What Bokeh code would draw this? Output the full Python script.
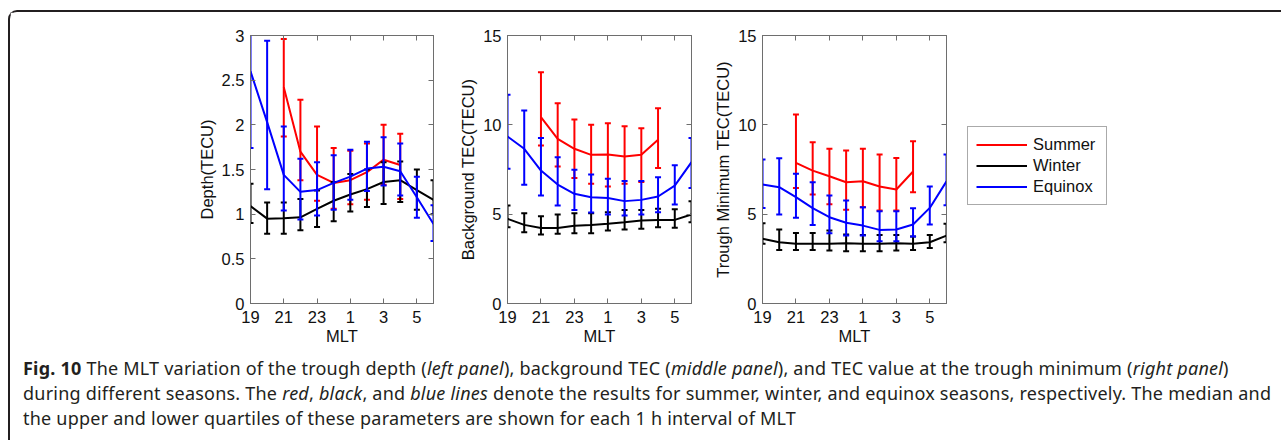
from bokeh.plotting import figure
from bokeh.models import (Range1d, FixedTicker, LinearAxis, Legend, LegendItem,
                          Div, Spacer, ColumnDataSource)
from bokeh.layouts import row, column
from bokeh.embed import file_html
from bokeh.resources import INLINE

# ---------------- data ----------------
mlt_hours = [19, 20, 21, 22, 23, 24, 25, 26, 27, 28, 29, 30]
summer_hours = [21, 22, 23, 24, 25, 26, 27, 28]
mlt_tick_values = [19, 21, 23, 25, 27, 29]
mlt_tick_labels = ["19", "21", "23", "1", "3", "5"]

depth_ticks = [0, 0.5, 1, 1.5, 2, 2.5, 3]
depth_tick_labels = ["0", "0.5", "1", "1.5", "2", "2.5", "3"]
tec_ticks = [0, 5, 10, 15]
tec_tick_labels = ["0", "5", "10", "15"]

season_names = ["Summer", "Winter", "Equinox"]
season_colors = ["#ff0000", "#000000", "#0000ff"]

# trough depth (TECU)
depth_summer = [2.42, 1.70, 1.44, 1.35, 1.38, 1.47, 1.61, 1.55]
depth_summer_hi = [2.96, 2.28, 1.98, 1.74, 1.71, 1.79, 2.00, 1.90]
depth_summer_lo = [1.87, 1.38, 1.15, 1.06, 1.11, 1.16, 1.33, 1.17]
depth_winter = [1.09, 0.95, 0.955, 0.965, 1.06, 1.15, 1.22, 1.28, 1.36, 1.38, 1.27, 1.16]
depth_winter_hi = [1.34, 1.13, 1.13, 1.17, 1.265, 1.36, 1.45, 1.50, 1.58, 1.59, 1.50, 1.38]
depth_winter_lo = [0.90, 0.78, 0.78, 0.82, 0.855, 0.92, 1.03, 1.08, 1.115, 1.135, 1.05, 1.00]
depth_equinox = [2.60, 2.03, 1.44, 1.25, 1.27, 1.35, 1.42, 1.51, 1.53, 1.48, 1.19, 0.89]
depth_equinox_hi = [3.05, 2.94, 1.98, 1.62, 1.58, 1.66, 1.72, 1.81, 1.86, 1.79, 1.42, 1.10]
depth_equinox_lo = [1.74, 1.28, 1.04, 0.94, 0.985, 1.05, 1.16, 1.26, 1.32, 1.21, 0.96, 0.70]

# background TEC (TECU)
bg_summer = [10.43, 9.21, 8.66, 8.32, 8.34, 8.23, 8.32, 9.16]
bg_summer_hi = [12.94, 11.21, 10.30, 10.0, 10.09, 9.92, 9.81, 10.93]
bg_summer_lo = [8.84, 7.67, 7.03, 6.70, 6.55, 6.70, 6.80, 7.59]
bg_winter = [4.74, 4.40, 4.23, 4.23, 4.35, 4.40, 4.46, 4.55, 4.65, 4.68, 4.68, 4.98]
bg_winter_hi = [5.48, 5.05, 4.89, 4.98, 5.05, 5.05, 5.11, 5.24, 5.24, 5.30, 5.27, 5.72]
bg_winter_lo = [4.27, 3.99, 3.86, 3.90, 3.93, 3.93, 4.09, 4.14, 4.18, 4.27, 4.24, 4.55]
bg_equinox = [9.35, 8.66, 7.44, 6.66, 6.14, 5.95, 5.91, 5.73, 5.80, 5.99, 6.60, 7.91]
bg_equinox_hi = [11.68, 10.8, 9.27, 8.19, 7.48, 7.22, 6.98, 6.85, 6.85, 7.07, 7.74, 9.27]
bg_equinox_lo = [7.54, 6.64, 6.04, 5.48, 5.24, 5.10, 4.98, 4.92, 4.98, 5.11, 5.54, 6.47]

# TEC at trough minimum (TECU)
tm_summer = [7.87, 7.44, 7.12, 6.79, 6.84, 6.55, 6.38, 7.39]
tm_summer_hi = [10.58, 9.03, 8.66, 8.56, 8.66, 8.34, 8.15, 9.08]
tm_summer_lo = [6.47, 6.10, 5.55, 5.25, 5.39, 5.20, 5.20, 6.23]
tm_winter = [3.62, 3.43, 3.34, 3.34, 3.34, 3.37, 3.34, 3.34, 3.37, 3.34, 3.43, 3.80]
tm_winter_hi = [4.49, 4.14, 3.95, 3.95, 4.08, 3.86, 3.84, 3.84, 3.84, 3.75, 3.84, 4.46]
tm_winter_lo = [3.34, 3.0, 3.0, 3.0, 2.97, 2.93, 2.93, 2.93, 2.97, 3.0, 3.11, 3.43]
tm_equinox = [6.66, 6.51, 5.95, 5.34, 4.83, 4.52, 4.36, 4.12, 4.14, 4.42, 5.35, 6.84]
tm_equinox_hi = [8.06, 8.13, 7.26, 6.79, 6.04, 5.76, 5.39, 5.17, 5.17, 5.33, 6.55, 8.34]
tm_equinox_lo = [5.35, 4.98, 4.80, 4.40, 3.93, 3.80, 3.80, 3.49, 3.49, 3.75, 4.42, 5.50]

# ---------------- styling ----------------
FONT = "Liberation Sans"
TICK_SIZE = "16.5px"
LABEL_SIZE = "16.5px"
FRAME_COLOR = "#6e6e6e"


def style_axis(ax, ticks, labels, show_labels=True):
    ax.ticker = FixedTicker(ticks=ticks)
    ax.major_tick_in = 5
    ax.major_tick_out = 0
    ax.minor_tick_in = 0
    ax.minor_tick_out = 0
    ax.major_tick_line_color = FRAME_COLOR
    ax.axis_line_color = FRAME_COLOR
    ax.major_label_text_font = FONT
    ax.major_label_text_color = "#111111"
    ax.major_label_text_font_size = TICK_SIZE
    ax.axis_label_text_font = FONT
    ax.axis_label_text_font_style = "normal"
    ax.axis_label_text_font_size = LABEL_SIZE
    ax.axis_label_text_color = "#111111"
    if show_labels:
        ax.major_label_overrides = {t: l for t, l in zip(ticks, labels)}
    else:
        ax.major_label_overrides = {t: "" for t in ticks}
        ax.major_label_standoff = 0


def make_panel(y_max, y_ticks, y_labels, y_title, border_left, border_right, series):
    p = figure(frame_width=184, frame_height=268,
               x_range=Range1d(19, 30), y_range=Range1d(0, y_max),
               min_border_left=border_left, min_border_right=border_right,
               min_border_top=23, min_border_bottom=48,
               output_backend="svg", toolbar_location=None)
    p.xgrid.visible = False
    p.ygrid.visible = False
    p.outline_line_color = FRAME_COLOR
    p.background_fill_color = "white"
    p.border_fill_color = "white"

    style_axis(p.xaxis[0], mlt_tick_values, mlt_tick_labels)
    p.xaxis[0].axis_label = "MLT"
    p.xaxis[0].major_label_standoff = 7
    p.xaxis[0].axis_label_standoff = 1
    style_axis(p.yaxis[0], y_ticks, y_labels)
    p.yaxis[0].axis_label = y_title
    p.yaxis[0].major_label_standoff = 6
    p.yaxis[0].axis_label_standoff = 3

    top = LinearAxis()
    style_axis(top, mlt_tick_values, mlt_tick_labels, show_labels=False)
    p.add_layout(top, "above")
    right = LinearAxis()
    style_axis(right, y_ticks, y_labels, show_labels=False)
    p.add_layout(right, "right")

    for (hrs, med, hi, lo), color in zip(series, season_colors):
        src = ColumnDataSource(dict(x=hrs, y=med, hi=hi, lo=lo))
        p.line("x", "y", source=src, line_color=color, line_width=2)
        p.segment(x0="x", y0="lo", x1="x", y1="hi", source=src,
                  line_color=color, line_width=2)
        p.scatter("x", "hi", source=src, marker="dash", size=6,
                  line_color=color, line_width=2)
        p.scatter("x", "lo", source=src, marker="dash", size=6,
                  line_color=color, line_width=2)
    return p


p1 = make_panel(3, depth_ticks, depth_tick_labels, "Depth(TECU)", 240, 17, [
    (summer_hours, depth_summer, depth_summer_hi, depth_summer_lo),
    (mlt_hours, depth_winter, depth_winter_hi, depth_winter_lo),
    (mlt_hours, depth_equinox, depth_equinox_hi, depth_equinox_lo),
])
p1.frame_width = 183

p2 = make_panel(15, tec_ticks, tec_tick_labels, "Background TEC(TECU)", 57, 14, [
    (summer_hours, bg_summer, bg_summer_hi, bg_summer_lo),
    (mlt_hours, bg_winter, bg_winter_hi, bg_winter_lo),
    (mlt_hours, bg_equinox, bg_equinox_hi, bg_equinox_lo),
])

p3 = make_panel(15, tec_ticks, tec_tick_labels, "Trough Minimum TEC(TECU)", 57, 10, [
    (summer_hours, tm_summer, tm_summer_hi, tm_summer_lo),
    (mlt_hours, tm_winter, tm_winter_hi, tm_winter_lo),
    (mlt_hours, tm_equinox, tm_equinox_hi, tm_equinox_lo),
])

# ---- legend panel: its own blank figure right of the third panel ----
# (hidden copies of the season lines serve only as legend swatches)
p4 = figure(frame_width=200, frame_height=268, x_axis_type=None, y_axis_type=None,
            x_range=Range1d(19, 30), y_range=Range1d(0, 15),
            min_border_left=10, min_border_right=0, min_border_top=23,
            min_border_bottom=48, output_backend="svg", toolbar_location=None)
p4.outline_line_color = None
p4.background_fill_color = "white"
p4.border_fill_color = "white"
legend_lines = []
for (hrs, med), c in zip([(summer_hours, tm_summer), (mlt_hours, tm_winter), (mlt_hours, tm_equinox)],
                         season_colors):
    legend_lines.append(p4.line(x=hrs, y=med, line_color=c, line_width=2, visible=False))

legend = Legend(items=[LegendItem(label=n, renderers=[r]) for n, r in zip(season_names, legend_lines)],
                location=(1, 98), orientation="vertical")
legend.border_line_color = "#555555"
legend.border_line_width = 1
legend.background_fill_color = "white"
legend.background_fill_alpha = 1
legend.inactive_fill_alpha = 0
legend.label_text_font = FONT
legend.label_text_font_size = LABEL_SIZE
legend.label_text_color = "#111111"
legend.glyph_width = 51
legend.glyph_height = 19
legend.label_height = 19
legend.label_width = 65
legend.spacing = 2
legend.padding = 8
legend.label_standoff = 6
legend.margin = 0
p4.add_layout(legend, "center")

caption_html = (
    "<b>Fig. 10</b> The MLT variation of the trough depth (<i>left panel</i>), background TEC "
    "(<i>middle panel</i>), and TEC value at the trough minimum (<i>right panel</i>)<br>"
    "during different seasons. The <i>red</i>, <i>black</i>, and <i>blue lines</i> denote the results "
    "for summer, winter, and equinox seasons, respectively. The median and<br>"
    "the upper and lower quartiles of these parameters are shown for each 1 h interval of MLT"
)
caption = Div(text=caption_html, width=1271, height=89,
              styles={"font-family": "'Noto Sans', sans-serif", "font-size": "18px",
                      "letter-spacing": "0.22px",
                      "line-height": "25px", "color": "#231f20",
                      "padding-left": "8px", "white-space": "nowrap"})

top_row = row(p1, p2, p3, p4)
inner = column(top_row, caption,
               styles={"border-top": "2px solid #231f20",
                       "border-left": "2px solid #231f20",
                       "border-top-left-radius": "9px"})
layout = column(Spacer(height=10), row(Spacer(width=8), inner))

open("out.html", "w").write(file_html(layout, INLINE))
